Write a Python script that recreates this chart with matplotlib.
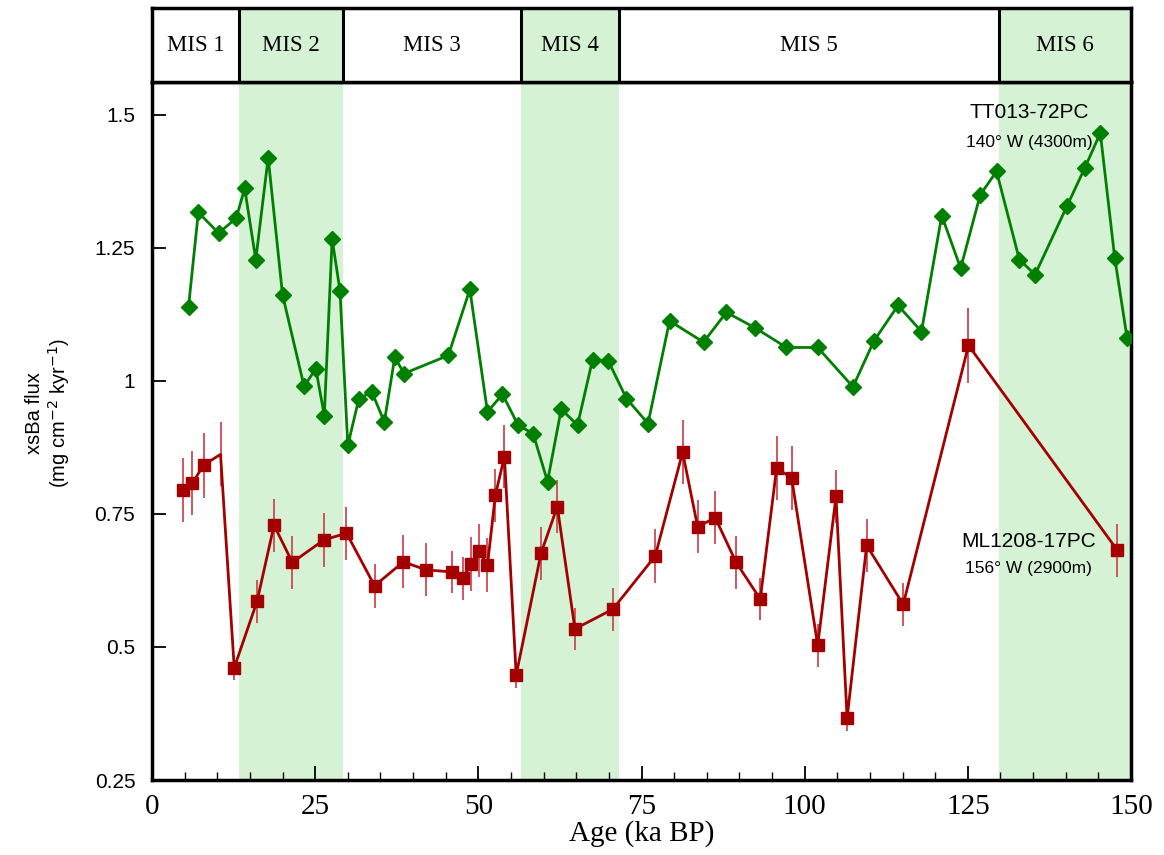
import numpy as np
import matplotlib
matplotlib.use('Agg')
import matplotlib.pyplot as plt
from matplotlib.ticker import MultipleLocator

plt.rcParams['axes.unicode_minus'] = False

# TT013-72PC (140 W, 4300 m)
tt_age = [5.6, 7.1, 10.2, 12.9, 14.2, 15.9, 17.8, 20.0, 23.3, 25.1, 26.4, 27.6, 28.8,
          30.0, 31.7, 33.7, 35.6, 37.2, 38.6, 45.4, 48.7, 51.4, 53.7, 56.1, 58.4, 60.6,
          62.7, 65.2, 67.5, 69.9, 72.7, 76.0, 79.3, 84.5, 88.0, 92.4, 97.2, 102.0, 107.4,
          110.6, 114.3, 117.9, 121.0, 123.9, 126.9, 129.4, 132.9, 135.3, 140.2, 142.9,
          145.3, 147.5, 149.4]
tt_flux = [1.140, 1.317, 1.278, 1.306, 1.362, 1.228, 1.420, 1.162, 0.990, 1.023, 0.935,
           1.267, 1.170, 0.879, 0.967, 0.979, 0.923, 1.045, 1.014, 1.048, 1.172, 0.942,
           0.975, 0.917, 0.901, 0.811, 0.947, 0.917, 1.040, 1.038, 0.967, 0.920, 1.113,
           1.073, 1.129, 1.100, 1.063, 1.063, 0.989, 1.075, 1.142, 1.093, 1.311, 1.212,
           1.350, 1.394, 1.228, 1.200, 1.329, 1.400, 1.466, 1.232, 1.081]

# ML1208-17PC (156 W, 2900 m)
ml_age = [4.7, 6.2, 7.9, 10.5, 12.6, 16.1, 18.7, 21.5, 26.3, 29.8, 34.1, 38.5, 42.0,
          46.0, 47.6, 48.9, 50.1, 51.4, 52.6, 54.0, 55.8, 59.6, 62.1, 64.8, 70.6, 77.1,
          81.3, 83.6, 86.3, 89.5, 93.2, 95.7, 98.0, 102.0, 104.8, 106.5, 109.5, 115.1,
          125.1, 147.9]
ml_flux = [0.795, 0.808, 0.842, 0.862, 0.461, 0.586, 0.729, 0.659, 0.701, 0.714, 0.615,
           0.660, 0.645, 0.641, 0.629, 0.656, 0.681, 0.654, 0.785, 0.858, 0.447, 0.676,
           0.764, 0.534, 0.571, 0.671, 0.866, 0.726, 0.743, 0.659, 0.590, 0.836, 0.818,
           0.503, 0.783, 0.366, 0.691, 0.580, 1.067, 0.682]
ml_err = [0.060, 0.060, 0.061, 0.060, 0.023, 0.040, 0.050, 0.050, 0.050, 0.050, 0.041,
          0.050, 0.050, 0.040, 0.040, 0.050, 0.050, 0.050, 0.050, 0.060, 0.024, 0.050,
          0.050, 0.040, 0.040, 0.050, 0.060, 0.050, 0.050, 0.050, 0.039, 0.060, 0.060,
          0.040, 0.050, 0.024, 0.050, 0.040, 0.071, 0.050]
ml_no_marker = [3]  # this point shows no square in the original

# marine isotope stages
mis_labels = ['MIS 1', 'MIS 2', 'MIS 3', 'MIS 4', 'MIS 5', 'MIS 6']
mis_bounds = [0, 13.4, 29.3, 56.5, 71.5, 129.8, 150]
mis_glacial = [False, True, False, True, False, True]

shade = '#d5f2d5'
green = '#008000'
red = '#a50000'
W, H = 1164, 855

fig = plt.figure(figsize=(W / 100, H / 100), dpi=100)
ax = fig.add_axes([152 / W, 1 - 780 / H, (1131 - 152) / W, (780 - 82) / H])
ax_mis = fig.add_axes([152 / W, 1 - 82 / H, (1131 - 152) / W, (82 - 8) / H])

for a in (ax, ax_mis):
    a.set_xlim(0, 150)
    for i in range(len(mis_labels)):
        if mis_glacial[i]:
            a.axvspan(mis_bounds[i], mis_bounds[i + 1], color=shade, lw=0, zorder=0)
    for s in a.spines.values():
        s.set_linewidth(2.5)

# MIS strip
ax_mis.set_ylim(0, 1)
ax_mis.set_xticks([])
ax_mis.set_yticks([])
for b in mis_bounds[1:-1]:
    ax_mis.axvline(b, color='black', lw=2.2)
for i, lab in enumerate(mis_labels):
    ax_mis.text((mis_bounds[i] + mis_bounds[i + 1]) / 2, 0.5, lab, ha='center', va='center',
                family='Liberation Serif', fontsize=16.5)

# ML1208-17PC with error bars
ax.errorbar(ml_age, ml_flux, yerr=ml_err, fmt='none', ecolor='#cc4a55', elinewidth=1.3,
            capsize=0, zorder=2)
keep = [i for i in range(len(ml_age)) if i not in ml_no_marker]
ax.plot(ml_age, ml_flux, color=red, lw=2, marker='s', ms=8.5, markevery=keep, zorder=3)

# TT013-72PC
ax.plot(tt_age, tt_flux, color=green, lw=2, marker='D', ms=8.5, zorder=3)

ax.text(134.4, 1.504, 'TT013-72PC', ha='center', va='center', family='Liberation Sans', fontsize=15)
ax.text(134.4, 1.449, '140° W (4300m)', ha='center', va='center', family='Liberation Sans', fontsize=12.5)
ax.text(134.3, 0.699, 'ML1208-17PC', ha='center', va='center', family='Liberation Sans', fontsize=15)
ax.text(134.3, 0.648, '156° W (2900m)', ha='center', va='center', family='Liberation Sans', fontsize=12.5)

ax.set_ylim(0.25, 1.562)
ax.set_yticks([0.25, 0.5, 0.75, 1.0, 1.25, 1.5])
ax.set_yticklabels(['0.25', '0.5', '0.75', '1', '1.25', '1.5'])
ax.xaxis.set_major_locator(MultipleLocator(25))
ax.xaxis.set_minor_locator(MultipleLocator(5))
ax.tick_params(axis='x', which='major', direction='in', length=10, width=1.3, labelsize=21, pad=10)
ax.tick_params(axis='x', which='minor', direction='in', length=6, width=1)
ax.tick_params(axis='y', direction='in', length=10, width=1.3, labelsize=15, pad=12)
for t in ax.get_xticklabels():
    t.set_family('Liberation Serif')
for t in ax.get_yticklabels():
    t.set_family('Liberation Sans')

ax.set_xlabel('Age (ka BP)', family='Liberation Serif', fontsize=21, labelpad=0)
fig.text(34 / W, 1 - 413 / H, 'xsBa flux', rotation=90, ha='center', va='center',
         family='Liberation Sans', fontsize=14.5)
fig.text(59 / W, 1 - 413 / H, '(mg cm$^{-2}$ kyr$^{-1}$)', rotation=90, ha='center', va='center',
         family='Liberation Sans', fontsize=14.5)

fig.savefig('out.png', dpi=100)
